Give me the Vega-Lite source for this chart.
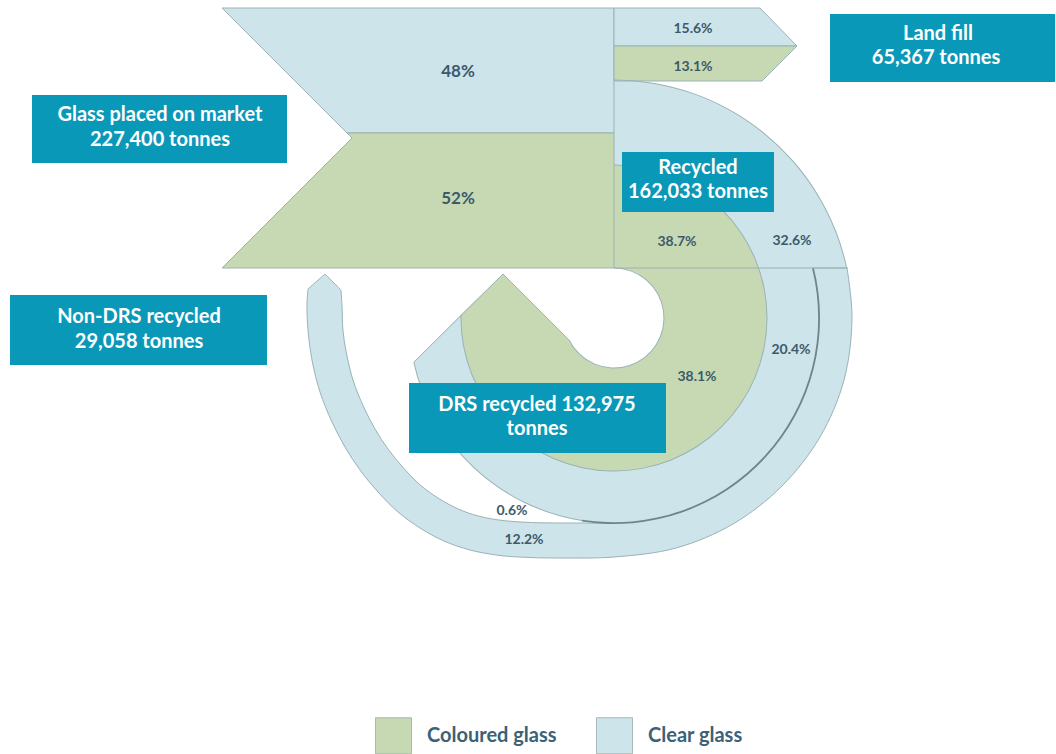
{
  "$schema": "https://vega.github.io/schema/vega-lite/v6.json",
  "width": 1056,
  "height": 754,
  "autosize": {"type": "none"},
  "padding": 0,
  "background": "white",
  "config": {"view": {"stroke": null}},
  "datasets": {
    "quad": [{"glass": "Clear glass", "t0": 0, "t1": 90, "r0": 0, "r1": 238, "x": 614, "y": 318}],
    "drsBlue": [{"glass": "Clear glass", "t0": 60, "t1": 257.6, "r0": 150, "r1": 205, "x": 614, "y": 318}],
    "greenArc": [{"glass": "Coloured glass", "t0": 0, "t1": 256, "r0": 0, "r1": 153, "x": 614, "y": 318}],
    "hole": [{"t0": 0, "t1": 360, "r0": 0, "r1": 50, "x": 614, "y": 318}],
    "outlines": [
      {"t0": 0, "t1": 271, "r0": 152.5, "r1": 153.5, "x": 614, "y": 318},
      {"t0": 0, "t1": 78, "r0": 237.5, "r1": 238.5, "x": 614, "y": 318},
      {"t0": 189, "t1": 257.6, "r0": 204.5, "r1": 205.5, "x": 614, "y": 318},
      {"t0": 0, "t1": 244, "r0": 49.5, "r1": 50.5, "x": 614, "y": 318}
    ],
    "sliver": [{"t0": 75.9, "t1": 189, "r0": 204.2, "r1": 206, "x": 614, "y": 318}],
    "nonDrs": [
      {"i": 1, "x": 847, "y": 268}, {"i": 2, "x": 847, "y": 268}, {"i": 3, "x": 852, "y": 318},
      {"i": 4, "x": 844, "y": 380}, {"i": 5, "x": 820, "y": 437}, {"i": 6, "x": 782, "y": 486},
      {"i": 7, "x": 733, "y": 524}, {"i": 8, "x": 676, "y": 548}, {"i": 9, "x": 614, "y": 557},
      {"i": 10, "x": 560, "y": 558}, {"i": 11, "x": 530, "y": 557.5}, {"i": 12, "x": 500, "y": 555.5},
      {"i": 13, "x": 470, "y": 550}, {"i": 14, "x": 444, "y": 541}, {"i": 15, "x": 420, "y": 528},
      {"i": 16, "x": 398, "y": 512}, {"i": 17, "x": 378, "y": 492}, {"i": 18, "x": 360, "y": 470},
      {"i": 19, "x": 345, "y": 447}, {"i": 20, "x": 332, "y": 422}, {"i": 21, "x": 320, "y": 392},
      {"i": 22, "x": 312, "y": 360}, {"i": 23, "x": 308, "y": 330}, {"i": 24, "x": 307, "y": 305},
      {"i": 25, "x": 308, "y": 289}, {"i": 26, "x": 308, "y": 289}, {"i": 27, "x": 325, "y": 274},
      {"i": 28, "x": 325, "y": 274}, {"i": 29, "x": 341, "y": 290}, {"i": 30, "x": 341, "y": 290},
      {"i": 31, "x": 342, "y": 306}, {"i": 32, "x": 343, "y": 331}, {"i": 33, "x": 346.4, "y": 353},
      {"i": 34, "x": 353.3, "y": 381}, {"i": 35, "x": 363.7, "y": 407}, {"i": 36, "x": 375.3, "y": 429.5},
      {"i": 37, "x": 388.3, "y": 449.4}, {"i": 38, "x": 404, "y": 468.6}, {"i": 39, "x": 420.5, "y": 485.2},
      {"i": 40, "x": 438.5, "y": 498.3}, {"i": 41, "x": 458.2, "y": 509}, {"i": 42, "x": 479, "y": 516.2},
      {"i": 43, "x": 504.3, "y": 520.7}, {"i": 44, "x": 531.5, "y": 522.5}, {"i": 45, "x": 560, "y": 523},
      {"i": 46, "x": 583, "y": 523}, {"i": 47, "x": 614, "y": 523}, {"i": 48, "x": 667, "y": 516},
      {"i": 49, "x": 716, "y": 496}, {"i": 50, "x": 759, "y": 463}, {"i": 51, "x": 791.5, "y": 420.5},
      {"i": 52, "x": 812, "y": 371}, {"i": 53, "x": 819, "y": 318}, {"i": 54, "x": 813, "y": 268},
      {"i": 55, "x": 813, "y": 268}, {"i": 56, "x": 847, "y": 268}
    ],
    "arrowBlue": [
      {"i": 1, "x": 414, "y": 362}, {"i": 2, "x": 460.5, "y": 315}, {"i": 3, "x": 475, "y": 330},
      {"i": 4, "x": 480, "y": 365}, {"i": 5, "x": 420, "y": 375}
    ],
    "arrowGreen": [
      {"i": 1, "x": 503, "y": 274}, {"i": 2, "x": 460.5, "y": 315}, {"i": 3, "x": 462, "y": 337},
      {"i": 4, "x": 465.5, "y": 355}, {"i": 5, "x": 530, "y": 355}, {"i": 6, "x": 591, "y": 362}
    ],
    "whiteGap": [
      {"i": 1, "x": 498, "y": 269.5}, {"i": 2, "x": 614, "y": 269.5}, {"i": 3, "x": 614, "y": 318},
      {"i": 4, "x": 592, "y": 362.5}
    ],
    "bluePanels": [
      {"shape": "c48", "i": 1, "x": 222, "y": 8}, {"shape": "c48", "i": 2, "x": 614, "y": 8},
      {"shape": "c48", "i": 3, "x": 614, "y": 133}, {"shape": "c48", "i": 4, "x": 347, "y": 133},
      {"shape": "c48", "i": 5, "x": 222, "y": 8},
      {"shape": "l156", "i": 1, "x": 614, "y": 8}, {"shape": "l156", "i": 2, "x": 760, "y": 8},
      {"shape": "l156", "i": 3, "x": 797, "y": 46}, {"shape": "l156", "i": 4, "x": 614, "y": 46},
      {"shape": "l156", "i": 5, "x": 614, "y": 8}
    ],
    "greenPanels": [
      {"shape": "c52", "i": 1, "x": 347, "y": 133}, {"shape": "c52", "i": 2, "x": 614, "y": 133},
      {"shape": "c52", "i": 3, "x": 614, "y": 268}, {"shape": "c52", "i": 4, "x": 222, "y": 268},
      {"shape": "c52", "i": 5, "x": 352, "y": 138}, {"shape": "c52", "i": 6, "x": 347, "y": 133},
      {"shape": "l131", "i": 1, "x": 614, "y": 46}, {"shape": "l131", "i": 2, "x": 797, "y": 46},
      {"shape": "l131", "i": 3, "x": 762, "y": 81}, {"shape": "l131", "i": 4, "x": 614, "y": 81},
      {"shape": "l131", "i": 5, "x": 614, "y": 46}
    ],
    "edges": [
      {"shape": "base", "i": 1, "x": 614, "y": 268}, {"shape": "base", "i": 2, "x": 848, "y": 268},
      {"shape": "arrow", "i": 1, "x": 414, "y": 362}, {"shape": "arrow", "i": 2, "x": 503, "y": 274},
      {"shape": "arrow", "i": 3, "x": 569, "y": 340}
    ],
    "boxes": [
      {"name": "market", "x": 32, "x2": 287, "y": 95, "y2": 163},
      {"name": "nondrs", "x": 10, "x2": 267, "y": 295, "y2": 365},
      {"name": "landfill", "x": 830, "x2": 1055, "y": 14, "y2": 82},
      {"name": "recycled", "x": 622, "x2": 774, "y": 152, "y2": 212},
      {"name": "drs", "x": 409, "x2": 666, "y": 383, "y2": 453}
    ],
    "boxText": [
      {"t": "Glass placed on market", "x": 160, "y": 115},
      {"t": "227,400 tonnes", "x": 160, "y": 140},
      {"t": "Non-DRS recycled", "x": 139, "y": 317},
      {"t": "29,058 tonnes", "x": 139, "y": 342},
      {"t": "Land fill", "x": 938, "y": 34},
      {"t": "65,367 tonnes", "x": 936, "y": 58},
      {"t": "Recycled", "x": 698, "y": 168},
      {"t": "162,033 tonnes", "x": 698, "y": 192},
      {"t": "DRS recycled 132,975", "x": 537, "y": 405},
      {"t": "tonnes", "x": 537, "y": 429}
    ],
    "pctBig": [
      {"t": "48%", "x": 458, "y": 72},
      {"t": "52%", "x": 458, "y": 199}
    ],
    "pct": [
      {"t": "15.6%", "x": 693, "y": 29},
      {"t": "13.1%", "x": 693, "y": 67},
      {"t": "38.7%", "x": 677, "y": 242},
      {"t": "32.6%", "x": 792, "y": 241},
      {"t": "20.4%", "x": 791, "y": 350},
      {"t": "38.1%", "x": 697, "y": 377},
      {"t": "0.6%", "x": 512, "y": 511},
      {"t": "12.2%", "x": 524, "y": 540}
    ]
  },
  "encoding": {
    "x": {"field": "x", "type": "quantitative", "scale": {"domain": [0, 1056], "nice": false, "zero": false}, "axis": null},
    "y": {"field": "y", "type": "quantitative", "scale": {"domain": [0, 754], "reverse": true, "nice": false, "zero": false}, "axis": null}
  },
  "layer": [
    {
      "data": {"name": "quad"},
      "mark": {"type": "arc"},
      "encoding": {
        "theta": {"field": "t0", "type": "quantitative", "scale": {"domain": [0, 360], "range": [0, 6.283185307179586]}, "stack": null},
        "theta2": {"field": "t1"},
        "radius": {"field": "r1", "type": "quantitative", "scale": {"type": "linear", "domain": [0, 1000], "range": [0, 1000], "nice": false}},
        "radius2": {"field": "r0"},
        "fill": {
          "field": "glass", "type": "nominal",
          "scale": {"domain": ["Coloured glass", "Clear glass"], "range": ["#c6d9b3", "#cce4ea"]},
          "legend": {
            "orient": "none", "legendX": 375, "legendY": 717, "direction": "horizontal", "title": null,
            "padding": 0, "symbolType": "square", "symbolSize": 1296, "symbolStrokeColor": "#a7b9b6",
            "symbolStrokeWidth": 1, "symbolOpacity": 1, "labelFont": "Lato", "labelFontSize": 20,
            "labelFontWeight": "bold", "labelColor": "#3b6276", "labelOffset": 15, "columnPadding": 37
          }
        }
      }
    },
    {
      "data": {"name": "nonDrs"},
      "mark": {"type": "line", "fill": "#cce4ea", "stroke": "#9bb2b6", "strokeWidth": 1, "interpolate": "catmull-rom"},
      "encoding": {"order": {"field": "i", "type": "quantitative"}}
    },
    {
      "data": {"name": "drsBlue"},
      "mark": {"type": "arc"},
      "encoding": {
        "theta": {"field": "t0", "type": "quantitative", "stack": null},
        "theta2": {"field": "t1"},
        "radius": {"field": "r1", "type": "quantitative"},
        "radius2": {"field": "r0"},
        "fill": {"field": "glass", "type": "nominal"}
      }
    },
    {
      "data": {"name": "arrowBlue"},
      "mark": {"type": "line", "fill": "#cce4ea", "stroke": "transparent", "strokeWidth": 0},
      "encoding": {"order": {"field": "i", "type": "quantitative"}}
    },
    {
      "data": {"name": "greenArc"},
      "mark": {"type": "arc"},
      "encoding": {
        "theta": {"field": "t0", "type": "quantitative", "stack": null},
        "theta2": {"field": "t1"},
        "radius": {"field": "r1", "type": "quantitative"},
        "radius2": {"field": "r0"},
        "fill": {"field": "glass", "type": "nominal"}
      }
    },
    {
      "data": {"name": "arrowGreen"},
      "mark": {"type": "line", "fill": "#c6d9b3", "stroke": "transparent", "strokeWidth": 0},
      "encoding": {"order": {"field": "i", "type": "quantitative"}}
    },
    {
      "data": {"name": "whiteGap"},
      "mark": {"type": "line", "fill": "white", "stroke": "transparent", "strokeWidth": 0},
      "encoding": {"order": {"field": "i", "type": "quantitative"}}
    },
    {
      "data": {"name": "hole"},
      "mark": {"type": "arc", "fill": "white"},
      "encoding": {
        "theta": {"field": "t0", "type": "quantitative", "stack": null},
        "theta2": {"field": "t1"},
        "radius": {"field": "r1", "type": "quantitative"},
        "radius2": {"field": "r0"}
      }
    },
    {
      "data": {"name": "bluePanels"},
      "mark": {"type": "line", "fill": "#cce4ea", "stroke": "#9bb2b6", "strokeWidth": 1},
      "encoding": {"order": {"field": "i", "type": "quantitative"}, "detail": {"field": "shape", "type": "nominal"}}
    },
    {
      "data": {"name": "greenPanels"},
      "mark": {"type": "line", "fill": "#c6d9b3", "stroke": "#9bb2b6", "strokeWidth": 1},
      "encoding": {"order": {"field": "i", "type": "quantitative"}, "detail": {"field": "shape", "type": "nominal"}}
    },
    {
      "data": {"name": "outlines"},
      "mark": {"type": "arc", "fill": "#9bb2b6"},
      "encoding": {
        "theta": {"field": "t0", "type": "quantitative", "stack": null},
        "theta2": {"field": "t1"},
        "radius": {"field": "r1", "type": "quantitative"},
        "radius2": {"field": "r0"}
      }
    },
    {
      "data": {"name": "sliver"},
      "mark": {"type": "arc", "fill": "#6a878d"},
      "encoding": {
        "theta": {"field": "t0", "type": "quantitative", "stack": null},
        "theta2": {"field": "t1"},
        "radius": {"field": "r1", "type": "quantitative"},
        "radius2": {"field": "r0"}
      }
    },
    {
      "data": {"name": "edges"},
      "mark": {"type": "line", "stroke": "#9bb2b6", "strokeWidth": 1},
      "encoding": {"order": {"field": "i", "type": "quantitative"}, "detail": {"field": "shape", "type": "nominal"}}
    },
    {
      "data": {"name": "boxes"},
      "mark": {"type": "rect", "fill": "#0a98b8"},
      "encoding": {"x2": {"field": "x2"}, "y2": {"field": "y2"}}
    },
    {
      "data": {"name": "boxText"},
      "mark": {"type": "text", "font": "Lato", "fontSize": 20, "fontWeight": "bold", "fill": "white", "align": "center", "baseline": "middle"},
      "encoding": {"text": {"field": "t", "type": "nominal"}}
    },
    {
      "data": {"name": "pctBig"},
      "mark": {"type": "text", "font": "Lato", "fontSize": 17, "fontWeight": "bold", "fill": "#3d5a6b", "align": "center", "baseline": "middle"},
      "encoding": {"text": {"field": "t", "type": "nominal"}}
    },
    {
      "data": {"name": "pct"},
      "mark": {"type": "text", "font": "Lato", "fontSize": 14, "fontWeight": "bold", "fill": "#3d5a6b", "align": "center", "baseline": "middle"},
      "encoding": {"text": {"field": "t", "type": "nominal"}}
    }
  ]
}
